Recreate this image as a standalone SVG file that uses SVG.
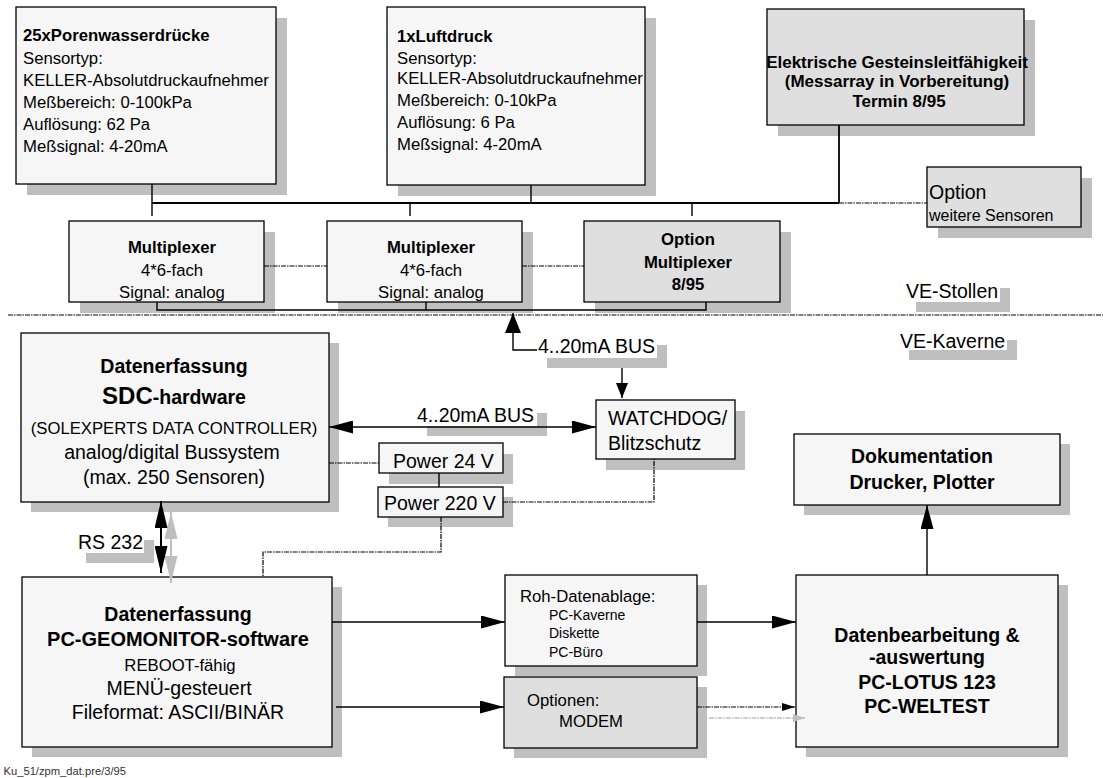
<svg xmlns="http://www.w3.org/2000/svg" width="1103" height="778" viewBox="0 0 1103 778">
<style>
.box{fill:#f6f6f6;stroke:#000;stroke-width:1.3}
.gbox{fill:#dfdfdf;stroke:#000;stroke-width:1.3}
.sh{fill:#bfbfbf}
.wl{fill:#fff}
text{font-family:"Liberation Sans",Arial,sans-serif;fill:#000}
.b{font-weight:bold}
.s{font-size:16.7px}
.m{font-size:19.5px}
.xs{font-size:14px}
.c{text-anchor:middle}
.ln{stroke:#000;stroke-width:1.4;fill:none}
.bus{stroke:#000;stroke-width:1.8;fill:none}
.dash{stroke:#000;stroke-width:1.2;fill:none;stroke-dasharray:5 1 1.5 1}
.gdash{stroke:#bfbfbf;stroke-width:1.3;fill:none;stroke-dasharray:5 1 1.5 1}
.foot{font-size:11.2px;fill:#333}
</style>
<defs>
<marker id="a" markerUnits="userSpaceOnUse" markerWidth="24" markerHeight="13" refX="24" refY="6.5" orient="auto-start-reverse"><path d="M0,0 L24,6.5 L0,13 Z" fill="#000"/></marker>
<marker id="ag" markerUnits="userSpaceOnUse" markerWidth="27" markerHeight="13" refX="27" refY="6.5" orient="auto-start-reverse"><path d="M0,0 L27,6.5 L0,13 Z" fill="#bfbfbf"/></marker>
<marker id="ar" markerUnits="userSpaceOnUse" markerWidth="27" markerHeight="13" refX="27" refY="6.5" orient="auto-start-reverse"><path d="M0,0 L27,6.5 L0,13 Z" fill="#000"/></marker>
<marker id="big" markerUnits="userSpaceOnUse" markerWidth="20" markerHeight="16" refX="20" refY="8" orient="auto"><path d="M0,0 L20,8 L0,16 Z" fill="#000"/></marker>
<marker id="sm" markerUnits="userSpaceOnUse" markerWidth="15" markerHeight="12" refX="15" refY="6" orient="auto"><path d="M0,0 L15,6 L0,12 Z" fill="#000"/></marker>
<marker id="tiny" markerUnits="userSpaceOnUse" markerWidth="13" markerHeight="8" refX="13" refY="4" orient="auto"><path d="M0,0 L13,4 L0,8 Z" fill="#000"/></marker>
<marker id="tinyg" markerUnits="userSpaceOnUse" markerWidth="12" markerHeight="8" refX="12" refY="4" orient="auto"><path d="M0,0 L12,4 L0,8 Z" fill="#bfbfbf"/></marker>
</defs>

<g id="porenwasser">
<rect class="sh" x="27" y="18" width="260" height="177"/>
<rect class="box" x="16" y="7" width="260" height="177"/>
<text class="s b" x="23" y="41">25xPorenwasserdrücke</text>
<text class="s" x="23" y="64">Sensortyp:</text>
<text class="s" x="23" y="86">KELLER-Absolutdruckaufnehmer</text>
<text class="s" x="23" y="108">Meßbereich: 0-100kPa</text>
<text class="s" x="23" y="130">Auflösung: 62 Pa</text>
<text class="s" x="23" y="152">Meßsignal: 4-20mA</text>
</g>

<g id="luftdruck">
<rect class="sh" x="398" y="18" width="258" height="178"/>
<rect class="box" x="387" y="7" width="258" height="178"/>
<text class="s b" x="397" y="42">1xLuftdruck</text>
<text class="s" x="397" y="64">Sensortyp:</text>
<text class="s" x="397" y="84">KELLER-Absolutdruckaufnehmer</text>
<text class="s" x="397" y="106">Meßbereich: 0-10kPa</text>
<text class="s" x="397" y="128">Auflösung: 6 Pa</text>
<text class="s" x="397" y="150">Meßsignal: 4-20mA</text>
</g>

<g id="gesteinsleitfaehigkeit">
<rect class="sh" x="778" y="20" width="257" height="116"/>
<rect class="gbox" x="767" y="9" width="257" height="116"/>
<text class="b c" x="897" y="68" style="font-size:17px">Elektrische Gesteinsleitfähigkeit</text>
<text class="b c" x="897" y="87" style="font-size:17px">(Messarray in Vorbereitung)</text>
<text class="b c" x="899" y="107" style="font-size:17px">Termin 8/95</text>
</g>

<g id="option-sensoren">
<rect class="sh" x="938" y="178" width="154" height="60"/>
<rect class="gbox" x="927" y="167" width="154" height="60"/>
<text class="m" x="929" y="199">Option</text>
<text x="929" y="221" style="font-size:16px">weitere Sensoren</text>
</g>

<g id="mux1">
<rect class="sh" x="80" y="232" width="195" height="81"/>
<rect class="box" x="69" y="221" width="195" height="81"/>
<text class="s b c" x="172" y="253">Multiplexer</text>
<text class="s c" x="172" y="276">4*6-fach</text>
<text class="s c" x="172" y="298">Signal: analog</text>
</g>

<g id="mux2">
<rect class="sh" x="338" y="232" width="195" height="81"/>
<rect class="box" x="327" y="221" width="195" height="81"/>
<text class="s b c" x="431" y="253">Multiplexer</text>
<text class="s c" x="431" y="276">4*6-fach</text>
<text class="s c" x="431" y="298">Signal: analog</text>
</g>

<g id="mux3">
<rect class="sh" x="595" y="232" width="196" height="81"/>
<rect class="gbox" x="584" y="221" width="196" height="81"/>
<text class="s b c" x="688" y="245">Option</text>
<text class="s b c" x="688" y="268">Multiplexer</text>
<text class="s b c" x="688" y="290">8/95</text>
</g>

<g id="sdc">
<rect class="sh" x="31" y="343" width="308" height="169"/>
<rect class="box" x="21" y="333" width="308" height="169"/>
<text class="m b c" x="174" y="373">Datenerfassung</text>
<text class="m b c" x="174" y="404"><tspan style="font-size:24px">SDC</tspan>-hardware</text>
<text class="s c" x="174" y="434">(SOLEXPERTS DATA CONTROLLER)</text>
<text class="m c" x="172" y="459">analog/digital Bussystem</text>
<text class="m c" x="174" y="484">(max. 250 Sensoren)</text>
</g>

<g id="power24">
<rect class="sh" x="389" y="454" width="124" height="30"/>
<rect class="box" x="379" y="443" width="124" height="30"/>
<text class="m" x="393" y="468">Power 24 V</text>
</g>

<g id="power220">
<rect class="sh" x="388" y="497" width="125" height="30"/>
<rect class="box" x="378" y="487" width="125" height="30"/>
<text class="m" x="384" y="510">Power 220 V</text>
</g>

<g id="watchdog">
<rect class="sh" x="606" y="411" width="139" height="59"/>
<rect class="box" x="596" y="400" width="139" height="59"/>
<text class="m" x="608" y="425">WATCHDOG/</text>
<text class="m" x="608" y="450">Blitzschutz</text>
</g>

<g id="dokumentation">
<rect class="sh" x="804" y="444" width="266" height="71"/>
<rect class="box" x="794" y="434" width="266" height="71"/>
<text class="m b c" x="922" y="463">Dokumentation</text>
<text class="m b c" x="922" y="489">Drucker, Plotter</text>
</g>

<g id="pc-geomonitor">
<rect class="sh" x="32" y="587" width="310" height="170"/>
<rect class="box" x="22" y="577" width="310" height="170"/>
<text class="m b c" x="178" y="621">Datenerfassung</text>
<text class="b c" x="178" y="646" style="font-size:20px">PC-GEOMONITOR-software</text>
<text class="s c" x="180" y="671">REBOOT-fähig</text>
<text class="m c" x="179" y="695">MENÜ-gesteuert</text>
<text class="m c" x="178" y="719">Fileformat: ASCII/BINÄR</text>
</g>

<g id="rohdaten">
<rect class="sh" x="515" y="585" width="192" height="91"/>
<rect class="box" x="505" y="575" width="192" height="91"/>
<text class="s" x="520" y="602">Roh-Datenablage:</text>
<text class="xs" x="549" y="620">PC-Kaverne</text>
<text class="xs" x="549" y="638">Diskette</text>
<text class="xs" x="549" y="657">PC-Büro</text>
</g>

<g id="optionen-modem">
<rect class="sh" x="514" y="687" width="193" height="71"/>
<rect class="gbox" x="504" y="677" width="193" height="71"/>
<text class="s" x="527" y="706">Optionen:</text>
<text class="s" x="559" y="727">MODEM</text>
</g>

<g id="datenbearbeitung">
<rect class="sh" x="806" y="585" width="262" height="172"/>
<rect class="box" x="796" y="575" width="262" height="172"/>
<text class="m b c" x="927" y="642">Datenbearbeitung &amp;</text>
<text class="m b c" x="927" y="664">-auswertung</text>
<text class="m b c" x="927" y="689">PC-LOTUS 123</text>
<text class="m b c" x="927" y="713">PC-WELTEST</text>
</g>

<g id="labels">
<rect class="sh" x="916" y="288" width="94" height="24"/>
<rect class="wl" x="904" y="278" width="96" height="24"/>
<text class="m" x="906" y="298">VE-Stollen</text>
<rect class="sh" x="909" y="340" width="108" height="20"/>
<rect class="wl" x="898" y="330" width="109" height="20"/>
<text class="m" x="900" y="348">VE-Kaverne</text>
<rect class="sh" x="547" y="345" width="120" height="23"/>
<rect class="wl" x="537" y="335" width="120" height="23"/>
<text class="m" x="538" y="353">4..20mA BUS</text>
<rect class="sh" x="427" y="413" width="120" height="23"/>
<rect class="wl" x="417" y="403" width="120" height="23"/>
<text class="m" x="417" y="422">4..20mA BUS</text>
<rect class="sh" x="86" y="540" width="68" height="23"/>
<rect class="wl" x="76" y="530" width="68" height="23"/>
<text class="m" x="78" y="549">RS 232</text>
<text class="foot" x="3.5" y="775">Ku_51/zpm_dat.pre/3/95</text>
</g>

<g id="connectors">
<path class="ln" d="M152,184 V216"/>
<path class="bus" d="M152,203 H839"/>
<path class="ln" d="M531,185 V203"/>
<path class="ln" d="M410,203 V216 M692,203 V216"/>
<path class="bus" d="M839,125 V203"/>
<path class="dash" d="M839,203 H927"/>
<path class="dash" d="M264,266 H327 M522,266 H584"/>
<path class="ln" d="M157,302 V310 H706 V302 M426,302 V310"/>
<path class="dash" d="M8,315 H1103"/>
<path class="ln" d="M537,350 H513 V313" marker-end="url(#big)"/>
<path class="ln" d="M622,368 V398" marker-end="url(#sm)"/>
<path class="ln" d="M329,427 H596" marker-start="url(#a)" marker-end="url(#a)"/>
<path class="dash" d="M329,463 H379"/>
<path class="ln" d="M439,473 V487"/>
<path class="dash" d="M503,502 H654 V459"/>
<path class="dash" d="M441,517 V552 H263 V577"/>
<path class="ln" style="stroke:#bfbfbf;stroke-width:2" d="M171,512 V583" marker-start="url(#ag)" marker-end="url(#ag)"/>
<path class="ln" style="stroke-width:2" d="M161,501 V573" marker-start="url(#ar)" marker-end="url(#ar)"/>
<path class="ln" d="M332,622 H505" marker-end="url(#a)"/>
<path class="ln" d="M336,707 H504" marker-end="url(#a)"/>
<path class="ln" d="M697,622 H796" marker-end="url(#a)"/>
<path class="dash" d="M697,707 H795" marker-end="url(#tiny)"/>
<path class="gdash" d="M709,718 H805" marker-end="url(#tinyg)"/>
<path class="ln" d="M927,575 V505" marker-end="url(#a)"/>
</g>
</svg>
